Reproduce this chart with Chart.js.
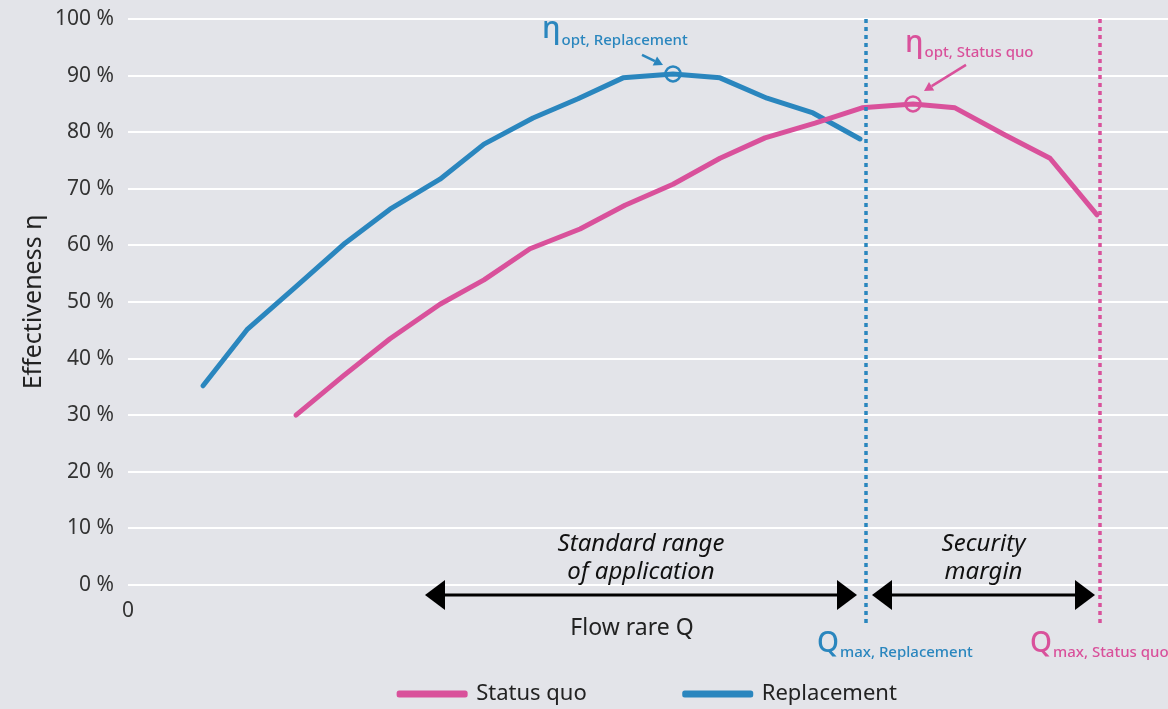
<!DOCTYPE html>
<html>
<head>
<meta charset="utf-8">
<script src="https://cdn.jsdelivr.net/npm/chart.js@4"></script>
<style>
  html, body { margin: 0; padding: 0; background: #e3e4e9; }
  #chart { display: block; }
</style>
</head>
<body>
<canvas id="chart" width="1168" height="709"></canvas>
<script>
// flow rate (arbitrary units) and effectiveness (%)
var qReplacement   = [7.5, 11.9, 16.8, 21.7, 26.2, 31.2, 35.6, 40.5, 45.0, 49.5, 54.5, 59.2, 63.9, 68.5, 73.2];
var effReplacement = [35.2, 45.1, 52.7, 60.4, 66.4, 71.7, 77.9, 82.5, 85.9, 89.6, 90.3, 89.6, 86.0, 83.4, 78.8];

var qStatusQuo   = [16.8, 21.5, 26.2, 31.2, 35.6, 40.2, 45.2, 49.7, 54.5, 59.2, 63.7, 68.7, 73.4, 78.5, 82.7, 87.7, 92.2, 96.9];
var effStatusQuo = [30.0, 36.9, 43.5, 49.6, 53.9, 59.4, 62.9, 67.1, 70.8, 75.4, 79.0, 81.6, 84.3, 85.0, 84.3, 79.5, 75.4, 65.4];

var qMaxReplacement = 73.8;
var qMaxStatusQuo = 97.2;
var standardRangeStart = 29.7;
var seriesNames = ['Status quo', 'Replacement'];
var yTicks = [0, 10, 20, 30, 40, 50, 60, 70, 80, 90, 100];

var BLUE = '#2a86be';
var PINK = '#d9519b';
var FONT = '"Noto Sans"';

function toPoints(xs, ys) {
  return xs.map(function (v, i) { return {x: v, y: ys[i]}; });
}
function peakIndex(arr) {
  return arr.indexOf(Math.max.apply(null, arr));
}
var peakRep = peakIndex(effReplacement);
var peakSQ = peakIndex(effStatusQuo);

function subLabel(ctx, x, y, big, small, color, bigSize, smallSize, dy) {
  ctx.fillStyle = color;
  ctx.textAlign = 'left';
  ctx.textBaseline = 'alphabetic';
  ctx.font = '500 ' + bigSize + 'px ' + FONT;
  ctx.fillText(big, x, y);
  var w = ctx.measureText(big).width;
  ctx.font = '500 ' + smallSize + 'px ' + FONT;
  ctx.fillText(small, x + w + 1, y + dy);
}

function doubleArrow(ctx, x1, x2, y) {
  ctx.save();
  ctx.strokeStyle = '#000';
  ctx.fillStyle = '#000';
  ctx.lineWidth = 3;
  ctx.setLineDash([]);
  ctx.beginPath();
  ctx.moveTo(x1 + 15, y);
  ctx.lineTo(x2 - 15, y);
  ctx.stroke();
  ctx.beginPath();
  ctx.moveTo(x1, y); ctx.lineTo(x1 + 20, y - 15); ctx.lineTo(x1 + 20, y + 15);
  ctx.closePath(); ctx.fill();
  ctx.beginPath();
  ctx.moveTo(x2, y); ctx.lineTo(x2 - 20, y - 15); ctx.lineTo(x2 - 20, y + 15);
  ctx.closePath(); ctx.fill();
  ctx.restore();
}

function pointer(ctx, x1, y1, x2, y2, color) {
  var a = Math.atan2(y2 - y1, x2 - x1);
  var len = 9, half = 5;
  ctx.save();
  ctx.strokeStyle = color;
  ctx.fillStyle = color;
  ctx.lineWidth = 2.5;
  ctx.beginPath();
  ctx.moveTo(x1, y1);
  ctx.lineTo(x2 - Math.cos(a) * len, y2 - Math.sin(a) * len);
  ctx.stroke();
  ctx.beginPath();
  ctx.moveTo(x2, y2);
  ctx.lineTo(x2 - Math.cos(a) * len - Math.sin(a) * half, y2 - Math.sin(a) * len + Math.cos(a) * half);
  ctx.lineTo(x2 - Math.cos(a) * len + Math.sin(a) * half, y2 - Math.sin(a) * len - Math.cos(a) * half);
  ctx.closePath();
  ctx.fill();
  ctx.restore();
}

var annotations = {
  id: 'annotations',
  afterDatasetsDraw: function (chart) {
    var ctx = chart.ctx, area = chart.chartArea;
    var x = chart.scales.x, y = chart.scales.y;
    var pxRep = x.getPixelForValue(qMaxReplacement);
    var pxSQ = x.getPixelForValue(qMaxStatusQuo);

    // Qmax dotted lines
    [[pxRep, BLUE], [pxSQ, PINK]].forEach(function (l) {
      ctx.save();
      ctx.strokeStyle = l[1];
      ctx.lineWidth = 3.5;
      ctx.setLineDash([4, 4]);
      ctx.beginPath();
      ctx.moveTo(l[0], area.top);
      ctx.lineTo(l[0], area.bottom + 40);
      ctx.stroke();
      ctx.restore();
    });

    // range arrows
    var ay = area.bottom + 10;
    var s1 = x.getPixelForValue(standardRangeStart), s2 = pxRep - 9;
    var m1 = pxRep + 6, m2 = pxSQ - 5;
    doubleArrow(ctx, s1, s2, ay);
    doubleArrow(ctx, m1, m2, ay);

    ctx.save();
    ctx.fillStyle = '#111';
    ctx.textAlign = 'center';
    ctx.textBaseline = 'middle';
    ctx.font = 'italic 24px ' + FONT;
    ctx.fillText('Standard range', (s1 + s2) / 2, ay - 51);
    ctx.fillText('of application', (s1 + s2) / 2, ay - 23);
    ctx.fillText('Security', (m1 + m2) / 2, ay - 51);
    ctx.fillText('margin', (m1 + m2) / 2, ay - 23);
    ctx.font = '23px ' + FONT;
    ctx.fillStyle = '#222';
    ctx.fillText('Flow rare Q', (s1 + s2) / 2 - 9, ay + 33);
    ctx.restore();

    // Qmax labels
    subLabel(ctx, pxRep - 49, area.bottom + 67, 'Q', 'max, Replacement', BLUE, 28, 15, 5);
    subLabel(ctx, pxSQ - 70, area.bottom + 67, 'Q', 'max, Status quo', PINK, 28, 15, 5);

    // optimum labels
    var pr = {x: x.getPixelForValue(qReplacement[peakRep]), y: y.getPixelForValue(effReplacement[peakRep])};
    var ps = {x: x.getPixelForValue(qStatusQuo[peakSQ]), y: y.getPixelForValue(effStatusQuo[peakSQ])};
    subLabel(ctx, pr.x - 131, pr.y - 36, 'η', 'opt, Replacement', BLUE, 30, 15, 7);
    pointer(ctx, pr.x - 31, pr.y - 19, pr.x - 10, pr.y - 9, BLUE);
    subLabel(ctx, ps.x - 8, ps.y - 52, 'η', 'opt, Status quo', PINK, 30, 15, 5);
    pointer(ctx, ps.x + 53, ps.y - 39, ps.x + 11, ps.y - 13, PINK);
  }
};

function lineSet(label, xs, ys, color, peak) {
  return {
    label: label,
    data: toPoints(xs, ys),
    borderColor: color,
    backgroundColor: color,
    borderWidth: 5,
    borderCapStyle: 'round',
    borderJoinStyle: 'round',
    tension: 0,
    fill: false,
    pointRadius: function (c) { return c.dataIndex === peak ? 7.5 : 0; },
    pointBorderWidth: 2.5,
    pointBorderColor: color,
    pointBackgroundColor: 'rgba(0,0,0,0)',
    pointHoverRadius: function (c) { return c.dataIndex === peak ? 7.5 : 0; }
  };
}

var ctx = document.getElementById('chart').getContext('2d');
var chart = new Chart(ctx, {
  type: 'line',
  data: {
    datasets: [
      lineSet(seriesNames[0], qStatusQuo, effStatusQuo, PINK, peakSQ),
      lineSet(seriesNames[1], qReplacement, effReplacement, BLUE, peakRep)
    ]
  },
  options: {
    responsive: false,
    animation: false,
    layout: { padding: { top: 19, right: 0, bottom: -6, left: 0 } },
    plugins: {
      tooltip: { enabled: false },
      legend: {
        position: 'bottom',
        fullSize: false,
        labels: {
          boxWidth: 66,
          boxHeight: 2,
          padding: 98,
          color: '#222',
          font: { family: FONT, size: 22 }
        }
      }
    },
    scales: {
      x: {
        type: 'linear',
        position: { y: 0 },
        min: 0,
        max: 104,
        grid: { display: false },
        border: { display: false },
        afterBuildTicks: function (scale) { scale.ticks = [{value: 0}]; },
        afterFit: function (scale) { scale.height = 0; },
        ticks: {
          padding: 5,
          color: '#333',
          font: { family: FONT, size: 21 },
          callback: function (v) { return v === 0 ? '0' : ''; }
        }
      },
      y: {
        min: 0,
        max: 100,
        afterBuildTicks: function (scale) { scale.ticks = yTicks.map(function (v) { return {value: v}; }); },
        afterFit: function (scale) {
          scale.width = 128;
          scale.paddingTop = 0;
          scale.paddingBottom = 0;
        },
        grid: { color: '#ffffff', lineWidth: 2, drawTicks: false },
        border: { display: false },
        ticks: {
          padding: 14,
          color: '#333',
          font: { family: FONT, size: 21 },
          callback: function (v) { return v + ' %'; }
        },
        title: {
          display: true,
          text: 'Effectiveness η',
          color: '#222',
          font: { family: FONT, size: 25 },
          padding: { top: 19, bottom: 0 }
        }
      }
    }
  },
  plugins: [annotations]
});
</script>
</body>
</html>
